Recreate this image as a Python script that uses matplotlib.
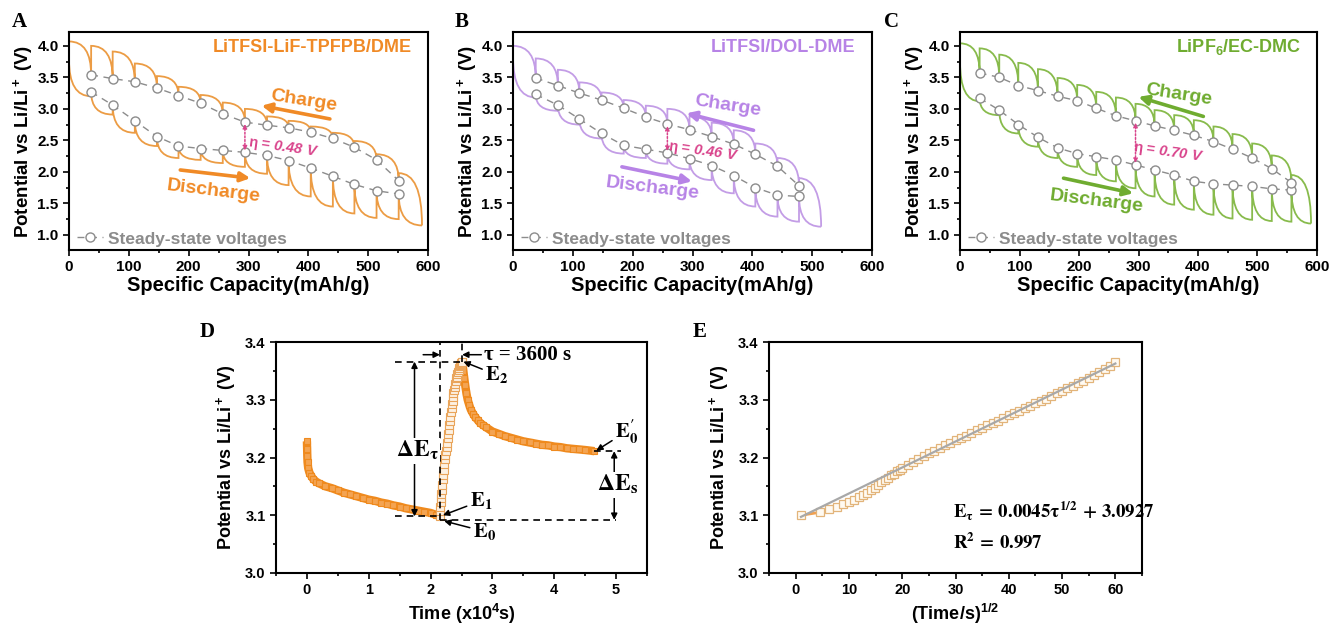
import numpy as np
import matplotlib
matplotlib.use("Agg")
import matplotlib.pyplot as plt
from matplotlib.path import Path
from matplotlib.patches import PathPatch
from matplotlib.ticker import MultipleLocator, FormatStrFormatter

plt.rcParams['font.family'] = 'Liberation Sans'
plt.rcParams['font.weight'] = 'bold'
plt.rcParams['mathtext.fontset'] = 'custom'
plt.rcParams['mathtext.rm'] = 'Liberation Sans:bold'
plt.rcParams['mathtext.bf'] = 'Liberation Sans:bold'
plt.rcParams['mathtext.it'] = 'Liberation Sans:italic:bold'
plt.rcParams['mathtext.default'] = 'bf'
plt.rcParams['axes.linewidth'] = 1.5

# --- GITT data: step capacities (mAh/g), steady-state and pulse-end voltages (V) ---
A_steps = [37, 73, 110, 147, 183, 220, 257, 294, 331, 367, 404, 441, 477, 514, 551]
A_dis_ss = [3.27, 3.06, 2.81, 2.56, 2.41, 2.37, 2.34, 2.31, 2.26, 2.18, 2.06, 1.93, 1.80, 1.70, 1.65]
A_dis_min = [3.20, 2.91, 2.62, 2.41, 2.22, 2.19, 2.14, 2.08, 1.97, 1.79, 1.61, 1.45, 1.34, 1.27, 1.25]
A_chg_ss = [3.54, 3.48, 3.43, 3.33, 3.21, 3.09, 2.92, 2.79, 2.74, 2.70, 2.63, 2.53, 2.39, 2.19, 1.86]
A_chg_max = [4.00, 3.91, 3.72, 3.52, 3.35, 3.22, 3.10, 3.00, 2.88, 2.81, 2.72, 2.62, 2.49, 2.28, 1.98]
A_ends = (3.78, 4.07, 590, 1.15)   # discharge start, charge end, cut-off capacity, cut-off voltage

B_steps = [38, 75, 111, 148, 185, 222, 258, 295, 332, 369, 405, 442, 478]
B_dis_ss = [3.23, 3.06, 2.84, 2.61, 2.42, 2.36, 2.30, 2.21, 2.10, 1.94, 1.75, 1.63, 1.61]
B_dis_min = [3.18, 2.97, 2.75, 2.53, 2.29, 2.22, 2.13, 2.04, 1.87, 1.66, 1.45, 1.29, 1.21]
B_chg_ss = [3.49, 3.37, 3.25, 3.14, 3.01, 2.87, 2.76, 2.67, 2.56, 2.44, 2.28, 2.09, 1.78]
B_chg_max = [3.80, 3.62, 3.42, 3.26, 3.14, 3.05, 3.00, 2.88, 2.78, 2.66, 2.45, 2.22, 1.90]
B_ends = (3.83, 4.00, 515, 1.13)

C_steps = [33, 66, 98, 131, 164, 197, 229, 262, 295, 327, 360, 393, 426, 458, 491, 524, 557]
C_dis_ss = [3.17, 2.98, 2.75, 2.55, 2.38, 2.29, 2.24, 2.19, 2.11, 2.03, 1.95, 1.85, 1.81, 1.79, 1.77, 1.73, 1.71]
C_dis_min = [3.12, 2.90, 2.61, 2.40, 2.22, 2.08, 1.95, 1.85, 1.74, 1.61, 1.48, 1.40, 1.32, 1.26, 1.24, 1.22, 1.21]
C_chg_ss = [3.57, 3.50, 3.37, 3.29, 3.20, 3.13, 3.01, 2.89, 2.81, 2.73, 2.66, 2.58, 2.48, 2.36, 2.22, 2.05, 1.83]
C_chg_max = [3.96, 3.86, 3.73, 3.63, 3.49, 3.38, 3.27, 3.18, 3.08, 2.98, 2.90, 2.82, 2.72, 2.60, 2.45, 2.26, 1.95]
C_ends = (3.75, 4.04, 590, 1.18)

# overpotential: (capacity, value)
A_eta = (294, 0.48)
B_eta = (258, 0.46)
C_eta = (295, 0.70)

# --- single GITT titration (D): time in 1e4 s, potential in V ---
D_rest1_t = [0.000, 0.003, 0.006, 0.010, 0.020, 0.040, 0.070, 0.100, 0.150, 0.200, 0.300, 0.400,
             0.500, 0.600, 0.700, 0.800, 0.900, 1.000, 1.100, 1.200, 1.300, 1.400, 1.500, 1.600,
             1.700, 1.800, 1.900, 2.000, 2.080, 2.150]
D_rest1_v = [3.228, 3.215, 3.203, 3.192, 3.182, 3.174, 3.168, 3.163, 3.158, 3.155, 3.150, 3.147,
             3.143, 3.139, 3.136, 3.133, 3.130, 3.127, 3.125, 3.122, 3.120, 3.117, 3.115, 3.112,
             3.110, 3.108, 3.106, 3.104, 3.101, 3.098]
D_pulse_t = [2.150, 2.155, 2.160, 2.165, 2.170, 2.175, 2.180, 2.188, 2.195, 2.203, 2.210, 2.220,
             2.230, 2.240, 2.250, 2.258, 2.265, 2.275, 2.285, 2.295, 2.305, 2.312, 2.320, 2.330,
             2.340, 2.348, 2.355, 2.362, 2.370, 2.380, 2.390, 2.400, 2.410, 2.418, 2.425, 2.435,
             2.445, 2.455, 2.465, 2.472, 2.480, 2.488, 2.495, 2.503, 2.510]
D_pulse_v = [3.099, 3.107, 3.115, 3.123, 3.130, 3.137, 3.144, 3.153, 3.162, 3.170, 3.178, 3.188,
             3.197, 3.205, 3.212, 3.219, 3.225, 3.233, 3.240, 3.248, 3.256, 3.263, 3.270, 3.278,
             3.286, 3.292, 3.298, 3.305, 3.311, 3.317, 3.322, 3.328, 3.333, 3.337, 3.340, 3.344,
             3.348, 3.352, 3.355, 3.358, 3.360, 3.362, 3.363, 3.365, 3.366]
D_rest2_t = [2.510, 2.520, 2.530, 2.545, 2.560, 2.580, 2.600, 2.625, 2.650, 2.685, 2.720, 2.760,
             2.800, 2.850, 2.900, 3.000, 3.100, 3.200, 3.300, 3.400, 3.500, 3.600, 3.700, 3.800,
             3.900, 4.000, 4.100, 4.200, 4.300, 4.400, 4.500, 4.650]
D_rest2_v = [3.366, 3.358, 3.350, 3.337, 3.325, 3.311, 3.300, 3.291, 3.283, 3.276, 3.270, 3.265,
             3.260, 3.256, 3.252, 3.245, 3.241, 3.237, 3.234, 3.231, 3.228, 3.226, 3.224, 3.222,
             3.221, 3.219, 3.218, 3.216, 3.215, 3.214, 3.213, 3.211]
D_E0, D_E1, D_E2, D_E0p = 3.092, 3.098, 3.366, 3.211
D_t1 = 2.15
D_tau = 0.36   # 3600 s in units of 1e4 s

# --- pulse potential vs sqrt(time) (E) ---
E_x = [1.0, 4.5, 6.3, 7.7, 8.9, 10.0, 11.0, 11.8, 12.6, 13.4, 14.1, 14.8, 15.5, 16.1, 16.7, 17.3,
       17.9, 18.4, 19.0, 19.5, 20.0, 21, 22, 23, 24, 25, 26, 27, 28, 29, 30, 31, 32, 33, 34, 35,
       36, 37, 38, 39, 40, 41, 42, 43, 44, 45, 46, 47, 48, 49, 50, 51, 52, 53, 54, 55, 56, 57,
       58, 59, 60]
E_v = [3.100, 3.105, 3.110, 3.114, 3.119, 3.123, 3.127, 3.131, 3.135, 3.139, 3.144, 3.148, 3.152,
       3.157, 3.161, 3.165, 3.169, 3.172, 3.176, 3.179, 3.182, 3.187, 3.192, 3.197, 3.202, 3.207,
       3.212, 3.216, 3.221, 3.225, 3.230, 3.234, 3.238, 3.243, 3.247, 3.251, 3.256, 3.260, 3.264,
       3.268, 3.273, 3.277, 3.281, 3.285, 3.290, 3.294, 3.298, 3.302, 3.307, 3.311, 3.315, 3.320,
       3.324, 3.329, 3.333, 3.338, 3.343, 3.348, 3.353, 3.359, 3.366]
E_slope, E_icpt, E_r2 = 0.0045, 3.0927, 0.997

W, H = 1330, 624
GRAY = '#8c8c8c'
MAGENTA = '#d9448c'


def box(l, t, r, b):
    return [l / W, 1 - b / H, (r - l) / W, (b - t) / H]


def gitt_path(x0, v0, steps, rest, extreme, x1, v1):
    # each pulse: steep start, flattening towards the pulse end, then vertical relaxation
    verts = [(x0, v0)]
    codes = [Path.MOVETO]
    prev = x0
    for x, r, e in zip(steps, rest, extreme):
        verts += [(prev, e), (x, e), (x, r)]
        codes += [Path.CURVE3, Path.CURVE3, Path.LINETO]
        prev = x
    verts += [(prev, v1), (x1, v1)]
    codes += [Path.CURVE3, Path.CURVE3]
    return Path(verts, codes)


def style_axes(ax, fs=11):
    ax.tick_params(which='both', direction='out', width=1.2, labelsize=fs, top=False, right=False)
    ax.tick_params(which='major', length=4)
    ax.tick_params(which='minor', length=2.5)
    for lab in ax.get_xticklabels() + ax.get_yticklabels():
        lab.set_fontweight('bold')


def gitt_panel(ax, steps, dis_ss, dis_min, chg_ss, chg_max, ends, eta, color, tcolor,
               title_tex, charge_pos, charge_arrow, dis_pos, dis_arrow, eta_pos):
    d0, c1, xc, vc = ends
    ax.add_patch(PathPatch(gitt_path(0, d0, steps, dis_ss, dis_min, xc, vc),
                           fc='none', ec=color, lw=1.3))
    ax.add_patch(PathPatch(gitt_path(xc, vc, steps[::-1], chg_ss[::-1], chg_max[::-1], 0, c1),
                           fc='none', ec=color, lw=1.3))
    kw = dict(ls=(0, (5, 4)), color=GRAY, lw=1.0, marker='o', ms=6.5, mfc='white',
              mec=GRAY, mew=1.0, zorder=3)
    ax.plot(steps, dis_ss, label='Steady-state voltages', **kw)
    ax.plot(steps, chg_ss, **kw)

    # overpotential arrow between the two steady-state points
    xe, ev = eta
    lo = dis_ss[steps.index(xe)]
    hi = lo + ev
    ax.annotate('', xy=(xe, hi - 0.03), xytext=(xe, lo + 0.03),
                arrowprops=dict(arrowstyle='<|-|>', color=MAGENTA, lw=1.1, ls=(0, (1.2, 1.2)),
                                mutation_scale=6, shrinkA=0, shrinkB=0), zorder=4)
    ax.text(eta_pos[0], eta_pos[1], r'$\eta$ = %.2f V' % ev, color=MAGENTA, fontsize=10.5,
            style='italic', rotation=-8, ha='center', va='center')

    ax.text(0.955, 0.93, title_tex, transform=ax.transAxes, color=tcolor, fontsize=13,
            ha='right', va='center')
    ax.text(charge_pos[0], charge_pos[1], 'Charge', color=tcolor, fontsize=14, rotation=-9,
            ha='center', va='center')
    ax.annotate('', xy=charge_arrow[1], xytext=charge_arrow[0],
                arrowprops=dict(arrowstyle='-|>', color=tcolor, lw=2.6, mutation_scale=14,
                                shrinkA=0, shrinkB=0))
    ax.text(dis_pos[0], dis_pos[1], 'Discharge', color=tcolor, fontsize=14, rotation=-7,
            ha='center', va='center')
    ax.annotate('', xy=dis_arrow[1], xytext=dis_arrow[0],
                arrowprops=dict(arrowstyle='-|>', color=tcolor, lw=2.6, mutation_scale=14,
                                shrinkA=0, shrinkB=0))

    leg = ax.legend(loc='lower left', bbox_to_anchor=(-0.012, -0.04), frameon=False,
                    handlelength=1.5, handletextpad=0.3, borderaxespad=0.3,
                    prop=dict(family='Liberation Sans', weight='bold', size=12.5))
    for t in leg.get_texts():
        t.set_color(GRAY)

    ax.set_xlim(0, 600)
    ax.set_ylim(0.76, 4.22)
    ax.set_xticks(range(0, 601, 100))
    ax.set_yticks([1.0, 1.5, 2.0, 2.5, 3.0, 3.5, 4.0])
    ax.xaxis.set_minor_locator(MultipleLocator(50))
    ax.yaxis.set_minor_locator(MultipleLocator(0.25))
    ax.yaxis.set_major_formatter(FormatStrFormatter('%.1f'))
    ax.set_xlabel('Specific Capacity(mAh/g)', fontsize=14.5, fontweight='bold', labelpad=1)
    ax.set_ylabel(r'Potential vs Li/Li$^+$ (V)', fontsize=13.5, fontweight='bold', labelpad=2)
    style_axes(ax, 11)


fig = plt.figure(figsize=(W / 100, H / 100), dpi=100)

axA = fig.add_axes(box(69, 32, 428, 250))
gitt_panel(axA, A_steps, A_dis_ss, A_dis_min, A_chg_ss, A_chg_max, A_ends, A_eta,
           '#ec9c44', '#f08a26', 'LiTFSI-LiF-TPFPB/DME',
           (392, 3.12), ((436, 2.84), (322, 3.05)), (241, 1.69), ((186, 2.03), (303, 1.90)),
           (358, 2.38))

axB = fig.add_axes(box(513, 32, 872, 250))
gitt_panel(axB, B_steps, B_dis_ss, B_dis_min, B_chg_ss, B_chg_max, B_ends, B_eta,
           '#c39de6', '#b783e6', 'LiTFSI/DOL-DME',
           (359, 3.05), ((402, 2.66), (290, 2.93)), (234, 1.74), ((182, 2.08), (299, 1.85)),
           (318, 2.32))

axC = fig.add_axes(box(960, 32, 1317, 250))
gitt_panel(axC, C_steps, C_dis_ss, C_dis_min, C_chg_ss, C_chg_max, C_ends, C_eta,
           '#88bb4c', '#6fac30', r'LiPF$_6$/EC-DMC',
           (367, 3.22), ((409, 2.88), (300, 3.19)), (230, 1.53), ((174, 1.90), (291, 1.66)),
           (350, 2.30))

# --- D: titration curve ---
axD = fig.add_axes(box(276, 342, 647, 573))
ORANGE = '#ef8a1e'
sq = dict(ls='none', marker='s', ms=4.5, mfc='#f4a452', mec=ORANGE, mew=0.8)
axD.plot(D_rest1_t, D_rest1_v, color=ORANGE, lw=6, solid_capstyle='butt')
axD.plot(D_rest1_t, D_rest1_v, **sq)
axD.plot(D_rest2_t, D_rest2_v, color=ORANGE, lw=6, solid_capstyle='butt')
axD.plot(D_rest2_t, D_rest2_v, **sq)
axD.plot(D_pulse_t, D_pulse_v, ls='none', marker='s', ms=5.5, mfc='#fdf1e2', mec='#e9a45a', mew=0.8)

D_t2 = D_t1 + D_tau
dash = dict(color='black', lw=1.2, ls=(0, (4, 3)))
axD.plot([D_t1, D_t1], [D_E0, 3.398], **dash)
axD.plot([D_t2, D_t2], [D_E2, 3.398], **dash)
axD.plot([1.43, D_t2], [D_E2, D_E2], **dash)
axD.plot([1.42, D_t1], [D_E1, D_E1], **dash)
axD.plot([D_t1, 5.0], [D_E0, D_E0], **dash)
axD.plot([4.65, 5.08], [D_E0p, D_E0p], **dash)

arr = dict(arrowstyle='-|>', color='black', lw=1.1, mutation_scale=9, shrinkA=0, shrinkB=0)
arr2 = dict(arrowstyle='<|-|>', color='black', lw=1.1, mutation_scale=9, shrinkA=0, shrinkB=0)
axD.annotate('', xy=(D_t1, 3.378), xytext=(1.88, 3.378), arrowprops=arr)
axD.annotate('', xy=(D_t2, 3.378), xytext=(2.82, 3.378), arrowprops=arr)
axD.text(2.86, 3.378, '\u03c4 = %d s' % round(D_tau * 1e4), family='Liberation Serif',
         fontweight='bold', fontsize=15, ha='left', va='center')
axD.annotate('', xy=(1.74, D_E2), xytext=(1.74, D_E1), arrowprops=arr2)
axD.text(1.78, 3.212, r'$\mathbf{\Delta E_\tau}$', math_fontfamily='stix', fontsize=17,
         ha='center', va='center', bbox=dict(fc='white', ec='none', pad=1))
axD.annotate('', xy=(4.97, D_E0p), xytext=(4.97, D_E0), arrowprops=arr2)
axD.text(5.02, 3.153, r'$\mathbf{\Delta E_s}$', math_fontfamily='stix', fontsize=17,
         ha='center', va='center', bbox=dict(fc='white', ec='none', pad=1))
axD.annotate(r'$\mathbf{E_2}$', xy=(D_t2 + 0.02, D_E2), xytext=(2.88, 3.343),
             math_fontfamily='stix', fontsize=15, va='center', arrowprops=arr)
axD.annotate(r'$\mathbf{E_1}$', xy=(D_t1 + 0.05, D_E1 + 0.002), xytext=(2.63, 3.125),
             math_fontfamily='stix', fontsize=15, va='center', arrowprops=arr)
axD.annotate(r'$\mathbf{E_0}$', xy=(D_t1 + 0.07, D_E0 - 0.002), xytext=(2.68, 3.072),
             math_fontfamily='stix', fontsize=15, va='center', arrowprops=arr)
axD.annotate(r'$\mathbf{E_0^{\prime}}$', xy=(4.68, D_E0p + 0.001), xytext=(4.98, 3.245),
             math_fontfamily='stix', fontsize=15, va='center', arrowprops=arr)

axD.set_xlim(-0.5, 5.5)
axD.set_ylim(3.0, 3.4)
axD.set_xticks(range(0, 6))
axD.set_yticks([3.0, 3.1, 3.2, 3.3, 3.4])
axD.xaxis.set_minor_locator(MultipleLocator(0.5))
axD.yaxis.set_minor_locator(MultipleLocator(0.05))
axD.yaxis.set_major_formatter(FormatStrFormatter('%.1f'))
axD.set_xlabel(r'Time (x10$^4$s)', fontsize=13, fontweight='bold', labelpad=3)
axD.set_ylabel(r'Potential vs Li/Li$^+$ (V)', fontsize=13, fontweight='bold', labelpad=5)
style_axes(axD, 10.5)

# --- E: linear fit of pulse potential vs sqrt(t) ---
axE = fig.add_axes(box(769, 342, 1142, 573))
axE.plot(E_x, E_v, color='#f0a050', lw=2.0, zorder=2)
axE.plot(E_x, E_v, ls='none', marker='s', ms=6, mfc='#fffaf2', mec='#e2b47a', mew=0.9, zorder=3)
fx = np.array([E_x[0], E_x[-1]])
axE.plot(fx, E_slope * fx + E_icpt, color='#a8a8a8', lw=1.6, zorder=4)
axE.text(29.5, 3.109, r'$\mathbf{E_\tau\,=\,%.4f\tau^{1/2}\,+\,%.4f}$' % (E_slope, E_icpt),
         math_fontfamily='stix', fontsize=13.5, ha='left', va='center')
axE.text(29.5, 3.052, r'$\mathbf{R^2\,=\,%.3f}$' % E_r2, math_fontfamily='stix', fontsize=13.5,
         ha='left', va='center')
axE.set_xlim(-5, 65)
axE.set_ylim(3.0, 3.4)
axE.set_xticks(range(0, 61, 10))
axE.set_yticks([3.0, 3.1, 3.2, 3.3, 3.4])
axE.xaxis.set_minor_locator(MultipleLocator(5))
axE.yaxis.set_minor_locator(MultipleLocator(0.05))
axE.yaxis.set_major_formatter(FormatStrFormatter('%.1f'))
axE.set_xlabel(r'(Time/s)$^{1/2}$', fontsize=13, fontweight='bold', labelpad=3)
axE.set_ylabel(r'Potential vs Li/Li$^+$ (V)', fontsize=13, fontweight='bold', labelpad=5)
style_axes(axE, 10.5)

# panel letters
for lab, x, y in [('A', 12, 22), ('B', 455, 22), ('C', 884, 22), ('D', 200, 332), ('E', 693, 332)]:
    fig.text(x / W, 1 - y / H, lab, family='Liberation Serif', fontweight='bold', fontsize=15,
             ha='left', va='center')

fig.savefig('out.png', dpi=100)
